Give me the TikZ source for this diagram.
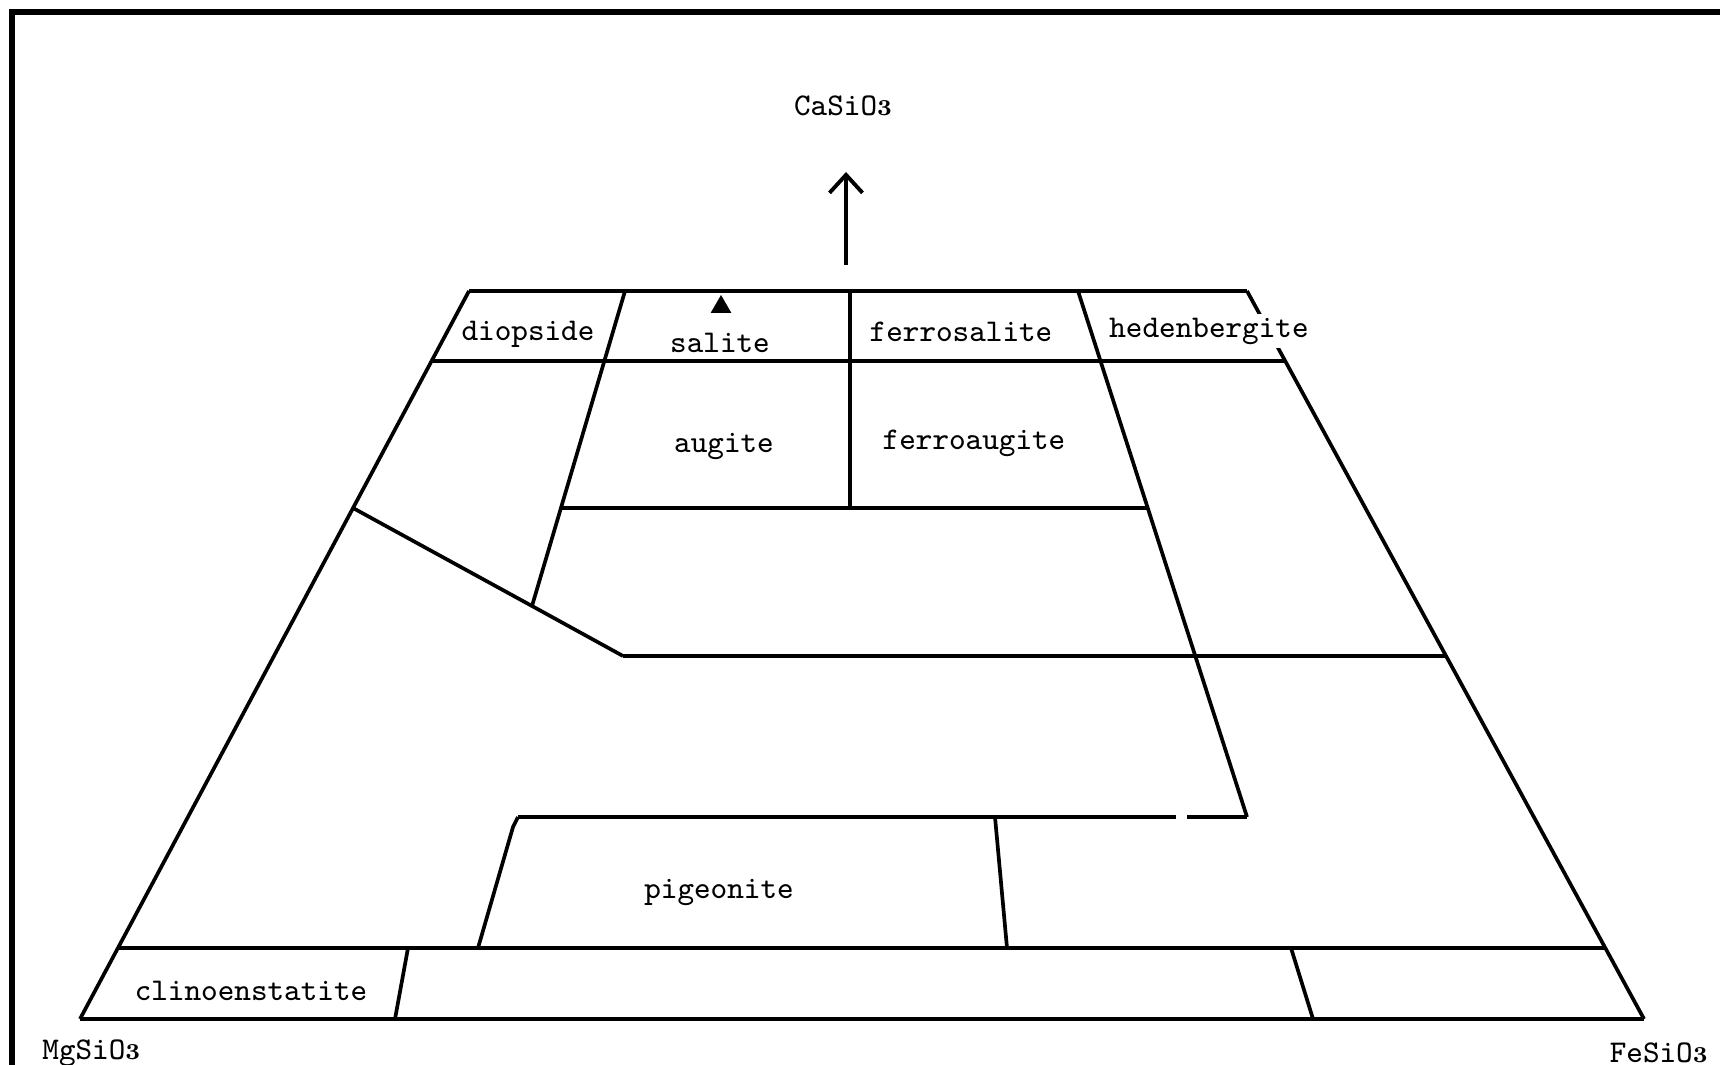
\documentclass[tikz,border=0pt]{standalone}
\usetikzlibrary{arrows.meta, shapes.geometric}

\newcommand{\subthree}{{\fontsize{6.5}{7}\selectfont\rmfamily\bfseries 3}}

\begin{document}
\begin{tikzpicture}[x=0.1mm, y=-0.1mm,
  every node/.style={font=\fontsize{9}{11}\selectfont\ttfamily},
  field/.style={line width=1.05pt, line join=round},
  row/.style={line width=1.3pt, line join=round},
  frame/.style={line width=1.6pt},
  mineral/.style={inner sep=1pt},
  tri/.style={regular polygon, regular polygon sides=3, fill=black,
              minimum size=2.4mm, inner sep=0pt},
  axisarr/.style={-{Straight Barb[length=1.8mm, width=3.3mm]},
                  line width=1.1pt}
]
\useasboundingbox (0,0) rectangle (1720,1065);

% frame (left and top only)
\draw[frame] (12,1065) -- (12,12) -- (1720,12);

% corners of the quadrilateral
\coordinate (MgC) at (80,1019);
\coordinate (FeC) at (1644,1019);
\coordinate (TL)  at (469,291);
\coordinate (TR)  at (1247,291);

\coordinate (L361) at (432,361);
\coordinate (R361) at (1285,361);
\coordinate (L508) at (353,508);
\coordinate (R656) at (1446,656);
\coordinate (L948) at (118,948);
\coordinate (R948) at (1605,948);

\coordinate (SalT) at (625,291);
\coordinate (SalB) at (532,606);
\coordinate (Kink) at (623,656);
\coordinate (AugL) at (562,508);
\coordinate (AugR) at (1148,508);
\coordinate (MidT) at (850,291);
\coordinate (MidB) at (850,508);
\coordinate (HedT) at (1078,291);
\coordinate (HedB) at (1247,817);

\coordinate (PigL)  at (518,817);
\coordinate (PigLk) at (513,827);
\coordinate (PigLB) at (478,948);
\coordinate (PigR)  at (995,817);
\coordinate (PigRB) at (1007,948);
\coordinate (GapA)  at (1176,817);
\coordinate (GapB)  at (1187,817);

\coordinate (CliT) at (408,948);
\coordinate (CliB) at (395,1019);
\coordinate (FsT)  at (1291,948);
\coordinate (FsB)  at (1313,1019);

% outline
\draw[field] (TL) -- (MgC);
\draw[field] (TR) -- (FeC);
\draw[row] (TL) -- (TR);
\draw[row] (MgC) -- (FeC);

% rows
\draw[row] (L361) -- (R361);
\draw[row] (L948) -- (R948);
\draw[field] (AugL) -- (AugR);
\draw[field] (Kink) -- (R656);
\draw[row] (PigL) -- (GapA);
\draw[row] (GapB) -- (HedB);

% dividers
\draw[field] (SalT) -- (SalB);
\draw[field] (L508) -- (SalB) -- (Kink);
\draw[field] (MidT) -- (MidB);
\draw[field] (HedT) -- (HedB);
\draw[field] (PigL) -- (PigLk) -- (PigLB);
\draw[field] (PigR) -- (PigRB);
\draw[field] (CliT) -- (CliB);
\draw[field] (FsT) -- (FsB);

% Ca direction
\coordinate (ArrB) at (846,265);
\coordinate (ArrT) at (846,172);
\draw[axisarr] (ArrB) -- (ArrT);

\node (CaS) at (843,106) {CaSiO\subthree};
\node[anchor=west] (MgS) at (30,1053) {MgSiO\subthree};
\node[anchor=east] (FeS) at (1720,1053) {FeSiO\subthree};

% fields
\node[mineral] (diop)  at (528,334) {diopside};
\node[mineral] (sal)   at (720,343) {salite};
\node[tri]     (salm)  at (721,307) {};
\node[mineral] (fsal)  at (961,332) {ferrosalite};
\node[mineral, fill=white] (hed) at (1209,331) {hedenbergite};
\node[mineral] (aug)   at (724,447) {augite};
\node[mineral] (faug)  at (974,443) {ferroaugite};
\node[mineral] (pig)   at (719,892) {pigeonite};
\node[mineral] (clen)  at (251,991) {clinoenstatite};

\end{tikzpicture}
\end{document}
